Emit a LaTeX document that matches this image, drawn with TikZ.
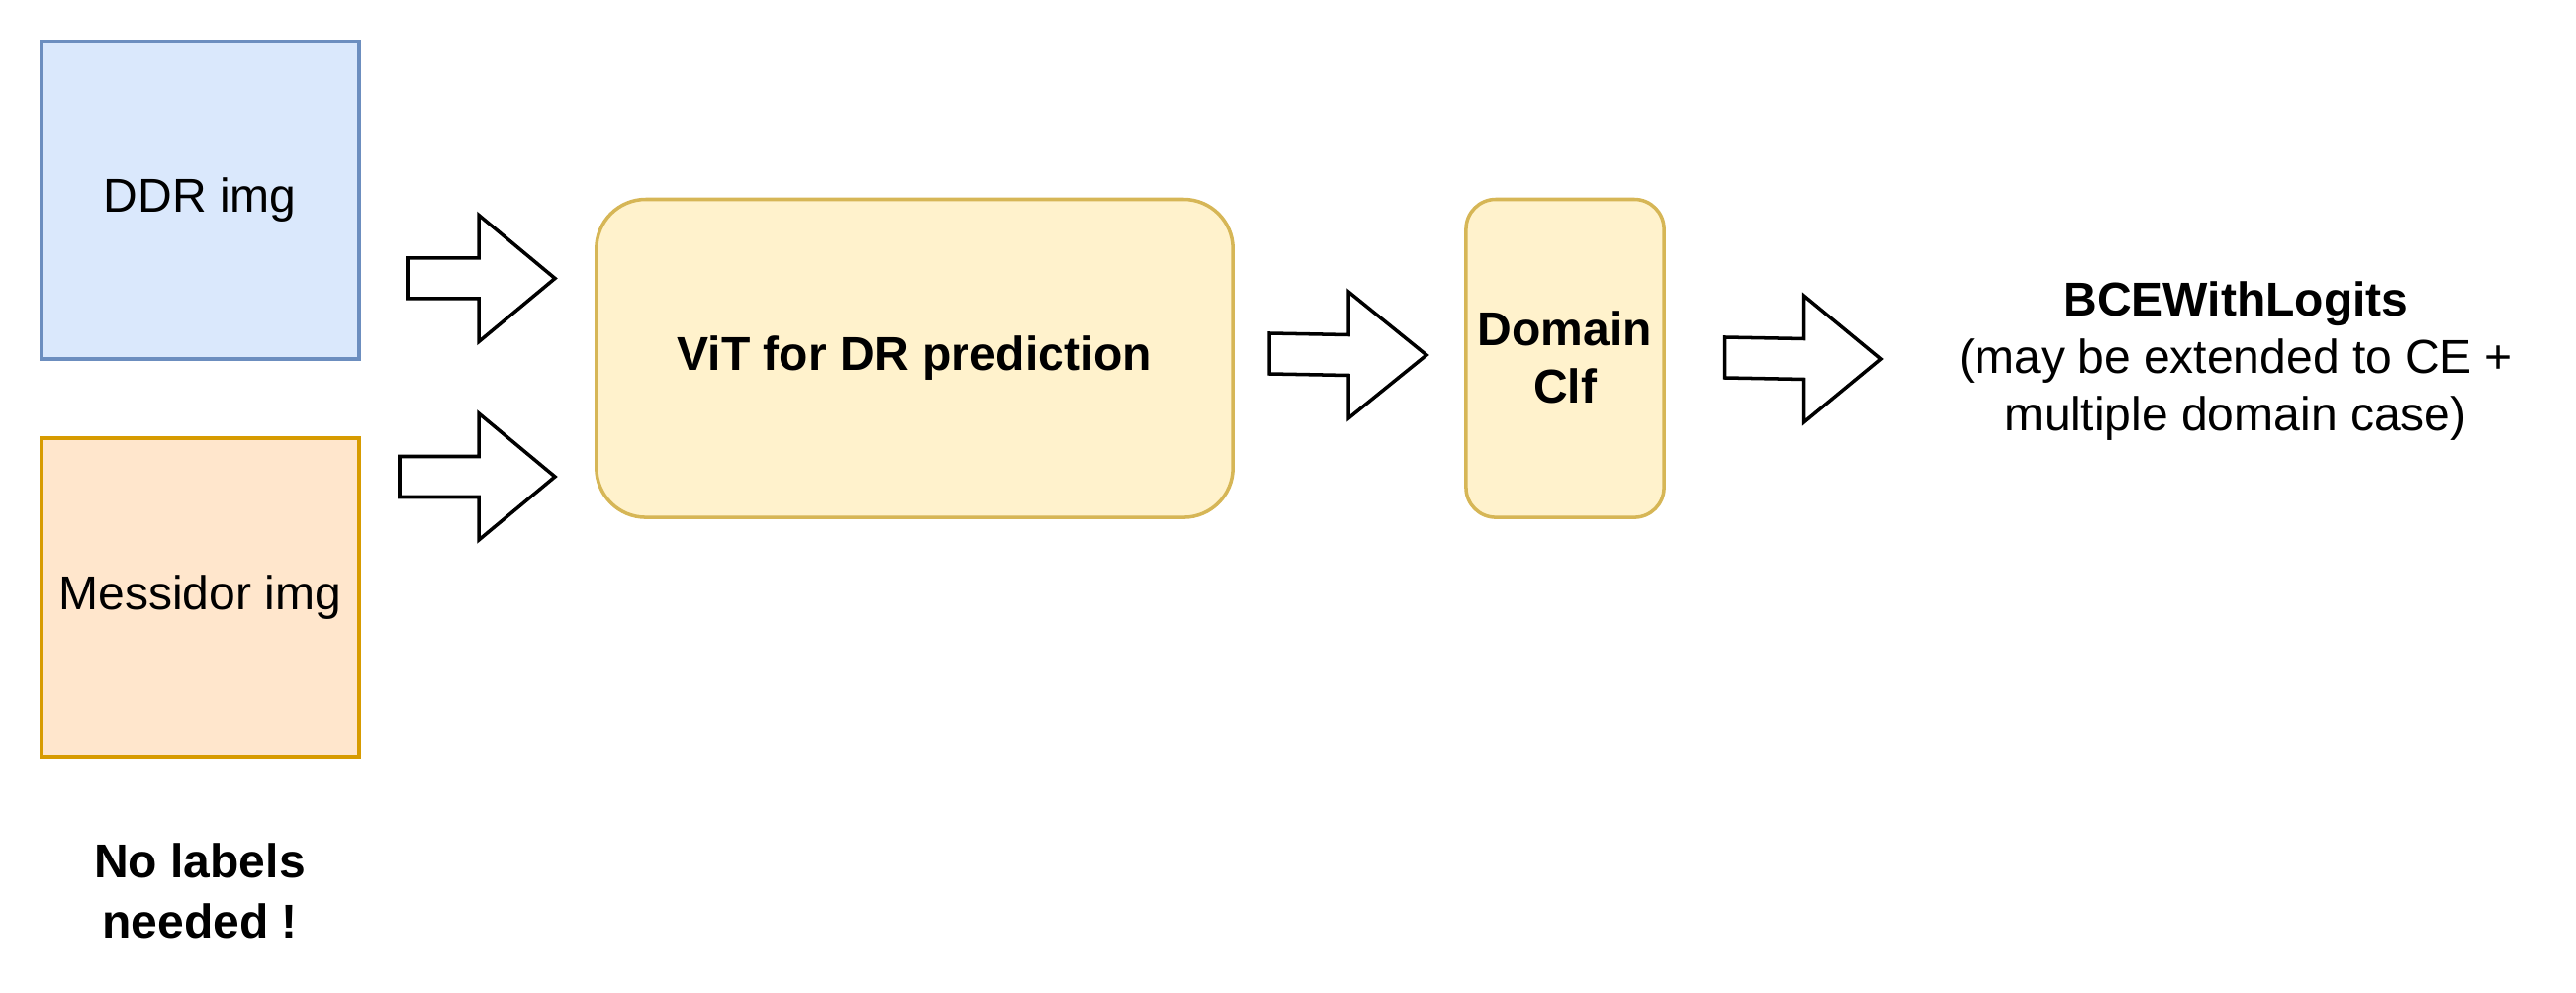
\documentclass[tikz,border=0pt]{standalone}
\usepackage{fontspec}
\setmainfont{Liberation Sans}
\definecolor{bluefill}{HTML}{DAE8FC}
\definecolor{bluedraw}{HTML}{6C8EBF}
\definecolor{orangefill}{HTML}{FFE6CC}
\definecolor{orangedraw}{HTML}{D79B00}
\definecolor{yellowfill}{HTML}{FFF2CC}
\definecolor{yellowdraw}{HTML}{D6B656}
\tikzset{
  basefont/.style={font=\fontsize{13.66pt}{16.4pt}\selectfont},
  imgbox/.style={basefont, draw, line width=1pt, inner sep=0pt,
    minimum width=3.214cm, minimum height=3.214cm, align=center},
  modelbox/.style={basefont, draw=yellowdraw, fill=yellowfill, line width=1pt,
    inner sep=0pt, minimum height=3.214cm, align=center},
  plaintext/.style={basefont, inner sep=0pt, align=center},
  blockarrow/.style={draw=black, fill=white, line width=1pt, line join=miter},
}
% \blkarrow{tail x}{head base x}{tip x}{tail y}{centre y}
\newcommand{\blkarrow}[5]{%
  \draw[blockarrow] (#1,#4-20.5) -- (#2,#5-20.5) -- (#2,#5-64) -- (#3,#5)
    -- (#2,#5+64) -- (#2,#5+20.5) -- (#1,#4+20.5) -- cycle;}
\begin{document}
\begin{tikzpicture}[x=0.01cm, y=-0.01cm]
\useasboundingbox (0,0) rectangle (2604,1004);
\node[imgbox, draw=bluedraw, fill=bluefill] (ddr) at (202.3,202.3) {DDR img};
\node[imgbox, draw=orangedraw, fill=orangefill] (mess) at (202.3,604) {Messidor img};
\node[modelbox, minimum width=6.43cm, rounded corners=0.5cm] (vit) at (924.5,362.3)
  {\bfseries ViT for DR prediction};
\node[modelbox, minimum width=2.0cm, rounded corners=0.3cm, text depth=0.03cm] (clf) at (1582,362.3)
  {\bfseries Domain\\[0.007cm]\bfseries Clf};
\node[plaintext] (loss) at (2260,365)
  {\bfseries BCEWithLogits\\(may be extended to CE +\\multiple domain case)};
\node[plaintext] (nolab) at (202,900.6) {\bfseries No labels\\[0.034cm]\bfseries needed !};
\blkarrow{412}{484}{561}{281.5}{281.5}
\blkarrow{404}{484}{561}{482}{482}
\blkarrow{1283}{1363}{1442}{357.5}{359}
\blkarrow{1743.5}{1823.5}{1901}{361.5}{363}
\end{tikzpicture}
\end{document}
